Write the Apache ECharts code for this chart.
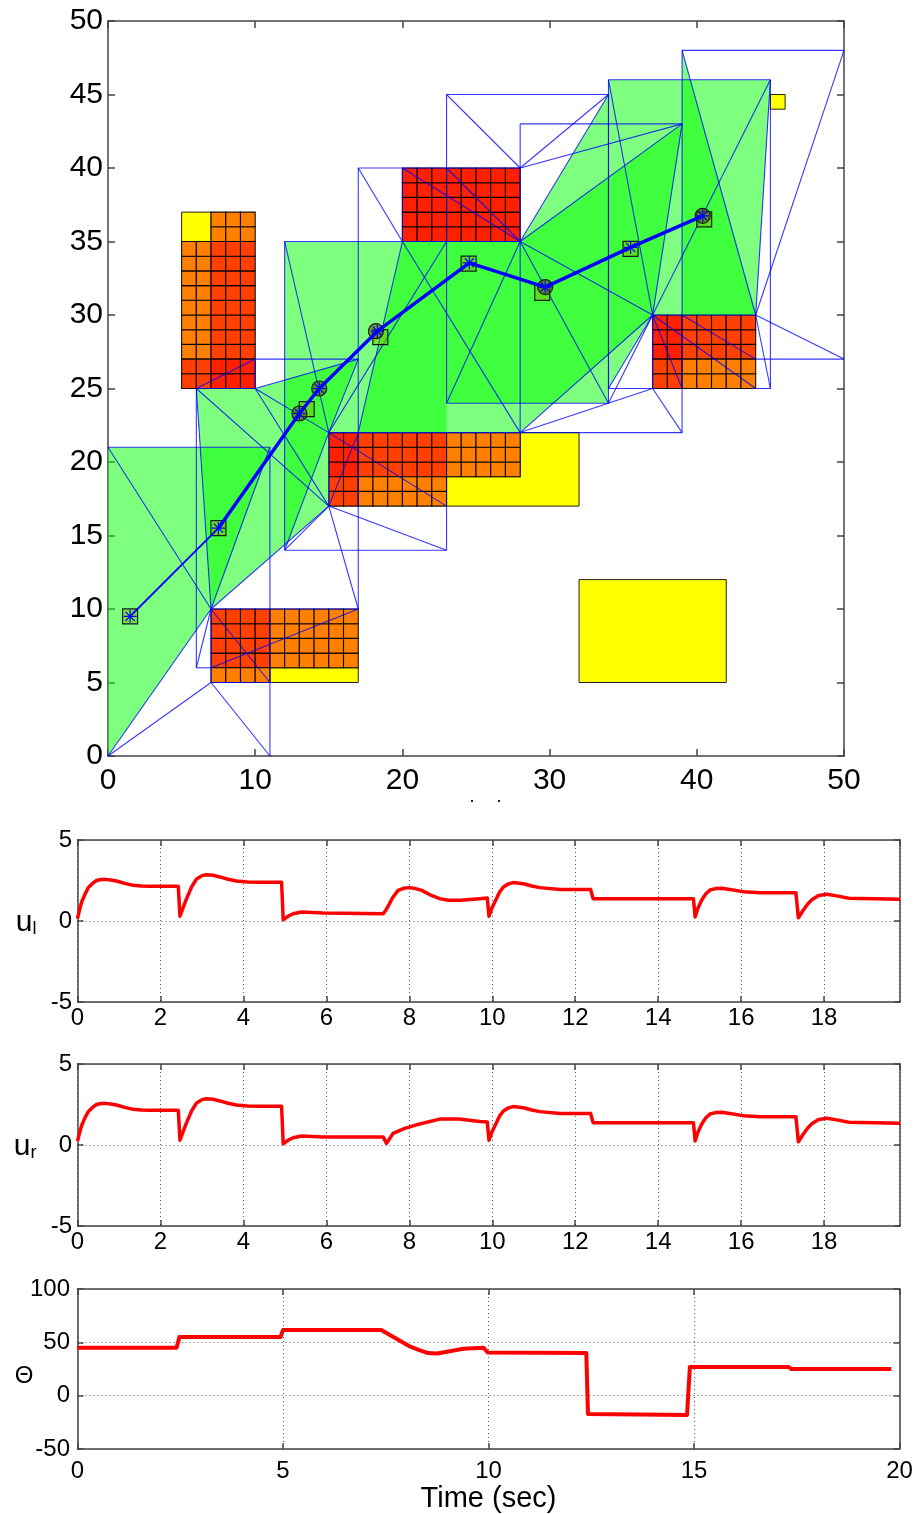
<!DOCTYPE html>
<html>
<head>
<meta charset="utf-8">
<title>Path through cells</title>
<style>
html, body { margin: 0; padding: 0; background: #fff; }
#chart { width: 919px; height: 1514px; }
</style>
<script src="https://cdn.jsdelivr.net/npm/echarts@6/dist/echarts.min.js"></script>
</head>
<body>
<div id="chart"></div>
<script>
// --- data ---
var cellColors = ['#ffff00', '#ff8000', '#ff4000', '#ff2000'];

// x0, y0, x1, y1, colour level; split into 1x1 cells
var cellBlocks = [
    [7, 35, 10, 37, 1], [5, 27, 7, 35, 1], [7, 27, 10, 35, 2], [5, 25, 7, 27, 2], [7, 25, 10, 27, 3],
    [20, 35, 28, 40, 3],
    [37, 27, 39, 30, 3], [39, 27, 44, 30, 2], [37, 25, 39, 27, 2], [39, 25, 44, 27, 1],
    [15, 19, 17, 22, 3], [17, 19, 23, 22, 2], [23, 19, 28, 22, 1], [15, 17, 17, 19, 2], [17, 17, 23, 19, 1],
    [7, 6, 11, 10, 2], [11, 6, 17, 10, 1], [7, 5, 11, 6, 1]
];

var yellowRegions = [
    [[5, 35], [7, 35], [7, 37], [5, 37]],
    [[23, 17], [32, 17], [32, 22], [28, 22], [28, 19], [23, 19]],
    [[11, 5], [17, 5], [17, 6], [11, 6]],
    [[32, 5], [42, 5], [42, 12], [32, 12]],
    [[45, 44], [46, 44], [46, 45], [45, 45]]
];

var greenRegions = [
    [[0, 0], [0, 21], [11, 21], [7, 10]],
    [[6, 25], [10, 25], [17, 27], [15, 22], [15, 17], [7, 10]],
    [[12, 35], [23, 35], [23, 22], [15, 22], [12, 14]],
    [[20, 35], [28, 35], [28, 22], [17, 22]],
    [[23, 35], [28, 35], [34, 45], [34, 24], [23, 24]],
    [[28, 35], [39, 43], [37, 30], [28, 22]],
    [[34, 46], [45, 46], [44, 30], [37, 30], [34, 25]],
    [[39, 48], [44, 30], [39, 30]]
];

// x0, y0, x1, y1
var cellEdges = [
    [0, 21, 11, 21], [11, 0, 11, 21], [0, 0, 7, 5], [7, 5, 11, 0], [0, 0, 7, 10], [0, 21, 7, 10], [7, 10, 11, 21],
    [7, 5, 7, 10], [7, 5, 11, 5], [7, 10, 11, 5], [7, 10, 17, 10], [7, 6, 17, 10], [6, 6, 7, 6], [6, 6, 7, 10],
    [6, 6, 6, 25], [6, 25, 7, 10], [6, 25, 10, 25], [6, 25, 10, 27], [6, 25, 15, 17], [10, 25, 10, 27],
    [10, 27, 17, 27], [10, 25, 17, 27], [10, 25, 15, 22], [10, 25, 15, 17], [17, 10, 17, 40], [17, 10, 15, 17],
    [7, 10, 15, 17], [12, 14, 15, 17], [12, 14, 23, 14], [12, 14, 12, 35], [12, 14, 15, 22], [15, 22, 17, 27],
    [15, 17, 23, 14], [23, 14, 23, 17], [15, 22, 23, 17], [15, 17, 15, 22], [17, 22, 15, 17], [20, 35, 17, 22],
    [12, 35, 15, 22], [12, 35, 28, 35], [23, 35, 15, 22], [15, 22, 28, 22], [17, 40, 20, 35], [17, 40, 28, 40],
    [20, 35, 20, 40], [20, 40, 28, 35], [23, 40, 28, 35], [20, 35, 28, 22], [23, 24, 28, 35], [23, 24, 34, 24],
    [23, 24, 23, 45], [23, 45, 34, 45], [23, 45, 28, 40], [28, 40, 34, 45], [28, 40, 39, 43], [28, 35, 34, 45],
    [28, 35, 39, 43], [28, 35, 34, 24], [28, 35, 37, 30], [28, 22, 28, 43], [28, 43, 39, 43], [28, 22, 39, 22],
    [28, 22, 37, 30], [28, 22, 37, 25], [34, 24, 34, 45], [34, 25, 34, 46], [34, 25, 37, 25], [34, 25, 37, 30],
    [34, 24, 37, 30], [37, 25, 39, 22], [37, 25, 37, 30], [34, 46, 45, 46], [34, 46, 37, 30], [37, 30, 39, 43],
    [37, 30, 44, 30], [37, 30, 45, 46], [37, 30, 39, 25], [37, 30, 44, 25], [39, 30, 44, 27], [39, 22, 39, 48],
    [39, 48, 50, 48], [39, 48, 44, 30], [45, 25, 45, 46], [44, 30, 45, 46], [44, 30, 45, 25], [44, 30, 50, 27],
    [44, 30, 50, 48], [44, 27, 50, 27], [44, 25, 45, 25]
];

var pathPoints = [[1.5, 9.5], [7.5, 15.5], [13.0, 23.3], [14.35, 25.0], [18.3, 28.9], [24.55, 33.55], [29.7, 31.9], [35.5, 34.6], [40.4, 36.75]];
var squarePoints = [[1.5, 9.5], [7.5, 15.5], [13.5, 23.6], [18.5, 28.5], [24.5, 33.5], [29.5, 31.5], [35.5, 34.5], [40.5, 36.5]];
var circlePoints = [[13.0, 23.3], [14.35, 25.0], [18.2, 28.9], [29.7, 31.9], [40.4, 36.75]];

var uLeft = [
    [0, 0.15], [0.05, 0.7], [0.1, 1.17], [0.18, 1.65], [0.26, 2.06], [0.36, 2.32], [0.46, 2.5], [0.56, 2.56], [0.66, 2.57], [0.8, 2.53],
    [0.94, 2.47], [1.14, 2.32], [1.34, 2.2], [1.54, 2.16], [1.74, 2.14], [2.43, 2.14],
    [2.47, 0.3], [2.55, 0.85], [2.63, 1.38], [2.75, 2.1], [2.87, 2.6], [3.0, 2.8], [3.11, 2.86], [3.27, 2.82], [3.43, 2.72], [3.63, 2.58],
    [3.83, 2.47], [4.1, 2.41], [4.4, 2.39], [4.92, 2.39],
    [4.96, 0.08], [5.08, 0.3], [5.2, 0.45], [5.4, 0.56], [5.92, 0.5], [7.37, 0.45], [7.43, 0.65], [7.5, 0.97], [7.6, 1.45], [7.73, 1.89],
    [7.86, 2.02], [8.0, 2.06], [8.15, 2.0], [8.3, 1.89], [8.5, 1.62], [8.73, 1.38], [8.94, 1.28], [9.22, 1.28], [9.7, 1.38], [9.88, 1.42],
    [9.92, 0.3], [10.0, 0.85], [10.1, 1.38], [10.18, 1.8], [10.27, 2.1], [10.38, 2.28], [10.5, 2.37], [10.75, 2.3], [10.95, 2.16], [11.15, 2.06],
    [11.63, 1.95], [12.37, 1.95], [12.43, 1.38], [14.85, 1.38],
    [14.89, 0.25], [14.96, 0.8], [15.05, 1.3], [15.15, 1.68], [15.25, 1.91], [15.38, 2.0], [15.53, 2.02], [15.8, 1.92], [16.05, 1.81], [16.46, 1.75], [17.32, 1.75],
    [17.38, 0.2], [17.48, 0.6], [17.6, 1.03], [17.72, 1.35], [17.87, 1.58], [18.07, 1.65], [18.3, 1.55], [18.6, 1.4], [19.83, 1.34]
];
var uRight = [
    [0, 0.25], [0.05, 0.75], [0.1, 1.2], [0.18, 1.68], [0.26, 2.06], [0.36, 2.32], [0.46, 2.5], [0.56, 2.56], [0.66, 2.57], [0.8, 2.53],
    [0.94, 2.47], [1.14, 2.32], [1.34, 2.2], [1.54, 2.16], [1.74, 2.14], [2.43, 2.14],
    [2.47, 0.3], [2.55, 0.85], [2.63, 1.38], [2.75, 2.1], [2.87, 2.6], [3.0, 2.8], [3.11, 2.86], [3.27, 2.82], [3.43, 2.72], [3.63, 2.58],
    [3.83, 2.47], [4.1, 2.41], [4.4, 2.39], [4.92, 2.39],
    [4.96, 0.08], [5.08, 0.3], [5.2, 0.45], [5.4, 0.56], [5.92, 0.5], [7.37, 0.5], [7.45, 0.1], [7.61, 0.72], [7.89, 1.03], [8.25, 1.3],
    [8.73, 1.6], [9.2, 1.6], [9.7, 1.45], [9.88, 1.42],
    [9.92, 0.3], [10.0, 0.85], [10.1, 1.38], [10.18, 1.8], [10.27, 2.1], [10.38, 2.28], [10.5, 2.37], [10.75, 2.3], [10.95, 2.16], [11.15, 2.06],
    [11.63, 1.95], [12.37, 1.95], [12.43, 1.38], [14.85, 1.38],
    [14.89, 0.25], [14.96, 0.8], [15.05, 1.3], [15.15, 1.68], [15.25, 1.91], [15.38, 2.0], [15.53, 2.02], [15.8, 1.92], [16.05, 1.81], [16.46, 1.75], [17.32, 1.75],
    [17.38, 0.2], [17.48, 0.6], [17.6, 1.03], [17.72, 1.35], [17.87, 1.58], [18.07, 1.65], [18.3, 1.55], [18.6, 1.4], [19.83, 1.34]
];
var theta = [
    [0, 45], [2.41, 45], [2.48, 55], [4.94, 55], [5.0, 61.5], [7.39, 61.5], [8.1, 46], [8.3, 43], [8.53, 40], [8.75, 39.5], [9.39, 44],
    [9.88, 45], [9.98, 40.5], [12.38, 40], [12.42, -17], [14.83, -18], [14.9, 27], [17.3, 27], [17.37, 25], [19.8, 25]
];

var font = '"Liberation Sans", Arial, sans-serif';
var axisColor = '#444';

var cells = [];
cellBlocks.forEach(function (b) {
    for (var x = b[0]; x < b[2]; x++) {
        for (var y = b[1]; y < b[3]; y++) {
            cells.push([x, y, b[4]]);
        }
    }
});

function axisPair(kind, grid, min, max, interval, fontSize, showGrid, tickLen, margin, extra) {
    var first = {
        type: 'value', gridIndex: grid, min: min, max: max, interval: interval,
        position: kind === 'x' ? 'bottom' : 'left',
        axisLine: { onZero: false, lineStyle: { color: axisColor, width: 1.5 } },
        axisTick: { inside: true, length: tickLen, lineStyle: { color: axisColor, width: 1.5 } },
        axisLabel: {
            color: '#000', fontFamily: font, fontSize: fontSize, margin: margin,
            padding: kind === 'y' ? [3, 0, 0, 0] : 0,
            showMaxLabel: kind === 'y' || max % interval === 0
        },
        splitLine: { show: showGrid, lineStyle: { color: '#555', type: [1, 3], width: 1 } }
    };
    var second = {
        type: 'value', gridIndex: grid, min: min, max: max, interval: interval,
        position: kind === 'x' ? 'top' : 'right',
        axisLine: { onZero: false, lineStyle: { color: axisColor, width: 1.5 } },
        axisTick: { inside: true, length: tickLen, lineStyle: { color: axisColor, width: 1.5 } },
        axisLabel: { show: false },
        splitLine: { show: false }
    };
    return [Object.assign(first, extra || {}), second];
}

var grids = [
    { left: 108, top: 21, width: 736, height: 735 },
    { left: 77.5, top: 840, width: 822.5, height: 162 },
    { left: 77.5, top: 1064, width: 822.5, height: 162 },
    { left: 77.5, top: 1289, width: 822, height: 161 }
];

function yName(main, sub, size, gap, lift) {
    return {
        name: sub ? '{u|' + main + '}{s|' + sub + '}' : '{u|' + main + '}',
        nameLocation: 'middle', nameRotate: 0, nameGap: gap, nameMoveOverlap: false,
        nameTextStyle: {
            rich: {
                u: { fontFamily: font, fontSize: size, color: '#000', padding: [lift, 0, 0, 0] },
                s: { fontFamily: font, fontSize: 18, color: '#000', padding: [lift + 12, 0, 0, 0] }
            }
        }
    };
}

var xAxes = [].concat(
    axisPair('x', 0, 0, 50, 10, 30, false, 7, 10),
    axisPair('x', 1, 0, 19.83, 2, 24, true, 6, 4),
    axisPair('x', 2, 0, 19.83, 2, 24, true, 6, 4),
    axisPair('x', 3, 0, 20, 5, 24, true, 6, 10, {
        name: 'Time (sec)', nameLocation: 'middle', nameGap: 31,
        nameTextStyle: { fontFamily: font, fontSize: 29, color: '#000' }
    })
);
var yAxes = [].concat(
    axisPair('y', 0, 0, 50, 5, 30, false, 7, 5),
    axisPair('y', 1, -5, 5, 5, 24, true, 6, 5.5, yName('u', 'l', 30, 41, 4)),
    axisPair('y', 2, -5, 5, 5, 24, true, 6, 5.5, yName('u', 'r', 30, 41, 4)),
    axisPair('y', 3, -50, 100, 50, 24, true, 6, 7.5, yName('\u0398', '', 24, 44, 14))
);

function polygonSeries(regions, fill, stroke, z) {
    return {
        type: 'custom', xAxisIndex: 0, yAxisIndex: 0, z: z, silent: true,
        data: regions.map(function (r) { return r[0]; }),
        renderItem: function (params, api) {
            return {
                type: 'polygon',
                shape: { points: regions[params.dataIndex].map(function (p) { return api.coord(p); }) },
                style: { fill: fill, stroke: stroke, lineWidth: 1 }
            };
        }
    };
}

function traceSeries(points, grid, width) {
    return {
        type: 'line', xAxisIndex: grid * 2, yAxisIndex: grid * 2, data: points, symbol: 'none', z: 5,
        lineStyle: { color: '#ff0000', width: width, join: 'round' }
    };
}

var starPath = 'path://M0 -6L0 6M-6 0L6 0M-4.2 -4.2L4.2 4.2M-4.2 4.2L4.2 -4.2';

var option = {
    animation: false,
    backgroundColor: '#fff',
    grid: grids,
    xAxis: xAxes,
    yAxis: yAxes,
    series: [
        polygonSeries(yellowRegions, '#ffff00', 'rgba(0,0,0,0.85)', 2),
        {
            type: 'custom', xAxisIndex: 0, yAxisIndex: 0, z: 3, silent: true,
            data: cells,
            renderItem: function (params, api) {
                var a = api.coord([api.value(0), api.value(1) + 1]);
                var b = api.coord([api.value(0) + 1, api.value(1)]);
                return {
                    type: 'rect',
                    shape: { x: a[0], y: a[1], width: b[0] - a[0], height: b[1] - a[1] },
                    style: { fill: cellColors[api.value(2)], stroke: 'rgba(0,0,0,0.92)', lineWidth: 1.1 }
                };
            }
        },
        polygonSeries(greenRegions, 'rgba(0,255,0,0.5)', 'none', 4),
        {
            type: 'custom', xAxisIndex: 0, yAxisIndex: 0, z: 5, silent: true,
            data: cellEdges,
            renderItem: function (params, api) {
                var a = api.coord([api.value(0), api.value(1)]);
                var b = api.coord([api.value(2), api.value(3)]);
                return {
                    type: 'line',
                    shape: { x1: a[0], y1: a[1], x2: b[0], y2: b[1] },
                    style: { stroke: 'rgba(0,0,255,0.78)', lineWidth: 1.1 }
                };
            }
        },
        {
            type: 'scatter', xAxisIndex: 0, yAxisIndex: 0, z: 6, data: squarePoints, symbol: 'rect', symbolSize: 15,
            itemStyle: { color: 'rgba(110,200,0,0.55)', borderColor: '#1a1a1a', borderWidth: 1.2, opacity: 1 }
        },
        {
            type: 'scatter', xAxisIndex: 0, yAxisIndex: 0, z: 6, data: circlePoints, symbol: 'circle', symbolSize: 15,
            itemStyle: { color: 'rgba(90,90,0,0.6)', borderColor: '#1a1a1a', borderWidth: 1.2, opacity: 1 }
        },
        {
            type: 'line', xAxisIndex: 0, yAxisIndex: 0, z: 7, symbol: 'none', data: pathPoints.slice(0, 2),
            lineStyle: { color: '#0000ff', width: 2 }
        },
        {
            type: 'line', xAxisIndex: 0, yAxisIndex: 0, z: 7, symbol: 'none', data: pathPoints.slice(1),
            lineStyle: { color: '#0000ff', width: 3.5 }
        },
        {
            type: 'scatter', xAxisIndex: 0, yAxisIndex: 0, z: 8, data: pathPoints, symbol: starPath, symbolSize: 13,
            itemStyle: { color: '#0000ff', borderColor: '#0000ff', borderWidth: 1.2, opacity: 1 }
        },
        traceSeries(uLeft, 1, 3.5),
        traceSeries(uRight, 2, 3.5),
        traceSeries(theta, 3, 4)
    ],
    // top of the cut off caption under the first plot
    graphic: [
        { type: 'rect', left: 471, top: 800, shape: { width: 2, height: 2 }, style: { fill: '#222' } },
        { type: 'rect', left: 498, top: 800, shape: { width: 2, height: 2 }, style: { fill: '#222' } }
    ]
};

var myChart = echarts.init(document.getElementById('chart'));
myChart.setOption(option);
</script>
</body>
</html>
